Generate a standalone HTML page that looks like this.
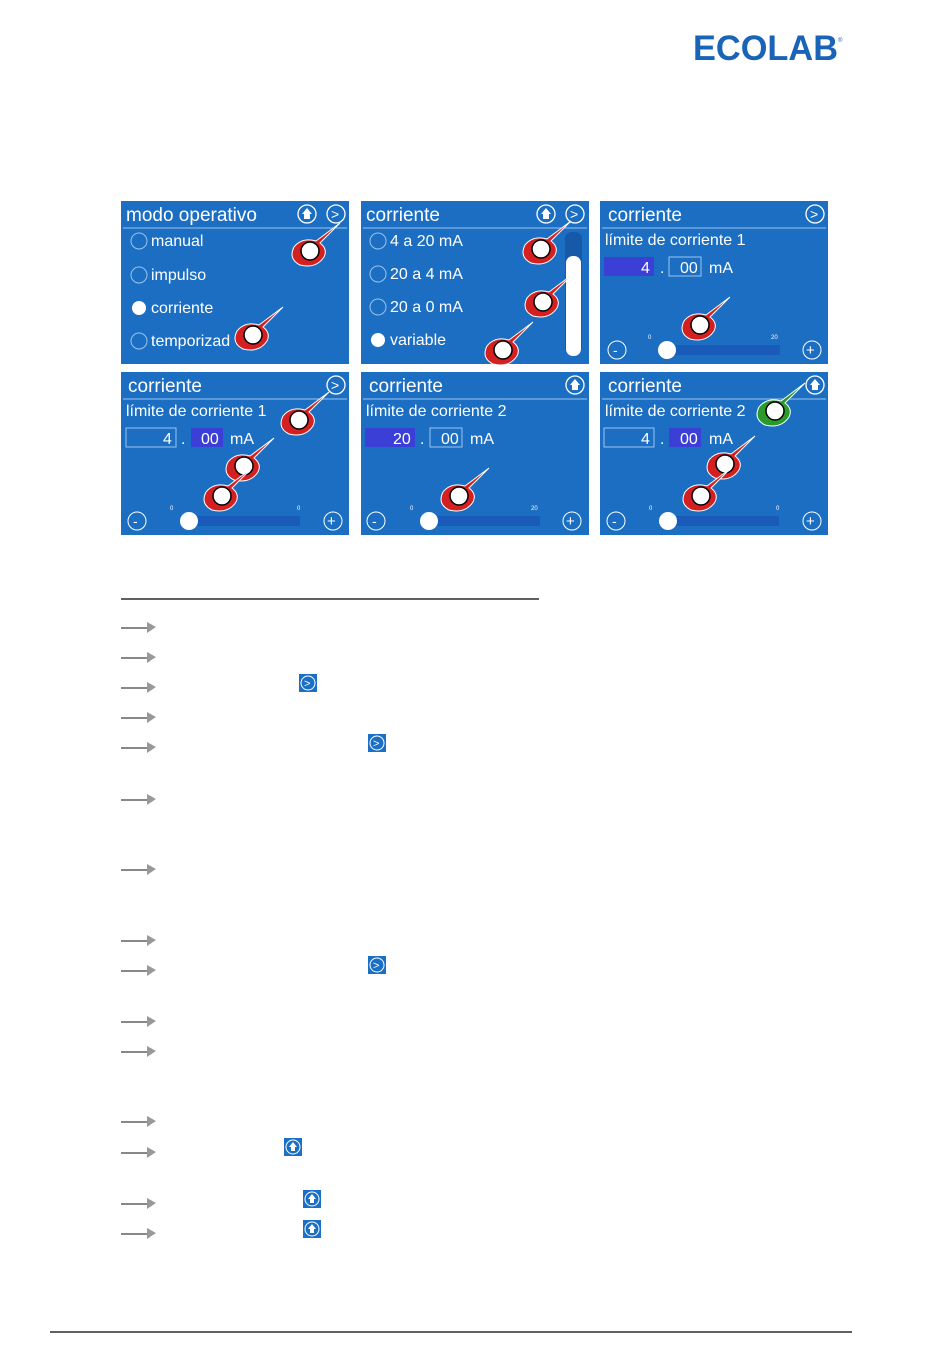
<!DOCTYPE html>
<html><head><meta charset="utf-8"><style>
body{margin:0;background:#fff;width:950px;height:1360px;overflow:hidden}
svg{display:block}
text{font-family:"Liberation Sans",sans-serif;fill:#fff}
</style></head><body>
<svg width="950" height="1360" viewBox="0 0 950 1360" xmlns="http://www.w3.org/2000/svg">
<defs>
<g id="hand"><path d="M30,-28 L6,-10 Q-8,-14 -16,-4 Q-22,8 -10,14 Q6,18 14,6 Q18,-2 10,-8 Z" fill="#d42020" stroke="#fff" stroke-width="1"/><circle cx="0" cy="0" r="9" fill="#fff" stroke="#000" stroke-width="1.5"/></g>
<g id="ghand"><path d="M30,-28 L6,-10 Q-8,-14 -16,-4 Q-22,8 -10,14 Q6,18 14,6 Q18,-2 10,-8 Z" fill="#2a9a2a" stroke="#fff" stroke-width="1"/><circle cx="0" cy="0" r="9" fill="#fff" stroke="#000" stroke-width="1.5"/></g>
<g id="nx"><circle r="9" fill="none" stroke="#fff" stroke-width="1.3"/><text x="-5" y="5" font-size="14">&gt;</text></g>
<g id="up"><circle r="9" fill="none" stroke="#fff" stroke-width="1.3"/><path d="M0,-6 L5,0 L3,0 L3,5 L-3,5 L-3,0 L-5,0Z" fill="#fff"/></g>
<g id="ic"><rect x="-9" y="-9" width="18" height="18" fill="#1b6fc4"/><circle r="7" fill="none" stroke="#fff" stroke-width="1"/><text x="-4" y="4" font-size="11">&gt;</text></g>
<g id="icu"><rect x="-9" y="-9" width="18" height="18" fill="#1b6fc4"/><circle r="7" fill="none" stroke="#fff" stroke-width="1"/><path d="M0,-5 L4,0 L2,0 L2,4 L-2,4 L-2,0 L-4,0Z" fill="#fff"/></g>
<g id="arr"><rect x="0" y="3" width="26" height="2" fill="#888"/><path d="M26,-2 L35,3 L26,9Z" fill="#999"/></g>
</defs>
<text x="693" y="60" font-size="35" font-weight="bold" textLength="145" lengthAdjust="spacingAndGlyphs" style="fill:#1a64b8;font-family:'Liberation Sans',sans-serif">ECOLAB</text>
<text x="838" y="42" font-size="6" style="fill:#1a64b8">®</text>

<g>
<rect x="121" y="201" width="228" height="163" fill="#1b6ec2"/>
<line x1="123" y1="228" x2="347" y2="228" stroke="#9cc4ee" stroke-width="1"/>
<text x="126" y="221" font-size="19">modo operativo</text>
<use href="#up" x="307" y="214"/><use href="#nx" x="336" y="214"/>
<circle cx="139" cy="241" r="8" fill="none" stroke="#9cc4ee"/><text x="151" y="246" font-size="16">manual</text>
<circle cx="139" cy="275" r="8" fill="none" stroke="#9cc4ee"/><text x="151" y="280" font-size="16">impulso</text>
<circle cx="139" cy="308" r="7" fill="#fff"/><text x="151" y="313" font-size="16">corriente</text>
<circle cx="139" cy="341" r="8" fill="none" stroke="#9cc4ee"/><text x="151" y="346" font-size="16">temporizad</text>
<use href="#hand" x="310" y="251"/><use href="#hand" x="253" y="335"/>
</g>
<g>
<rect x="361" y="201" width="228" height="163" fill="#1b6ec2"/>
<line x1="363" y1="228" x2="587" y2="228" stroke="#9cc4ee"/>
<text x="366" y="221" font-size="19">corriente</text>
<use href="#up" x="546" y="214"/><use href="#nx" x="575" y="214"/>
<circle cx="378" cy="241" r="8" fill="none" stroke="#9cc4ee"/><text x="390" y="246" font-size="16">4 a 20 mA</text>
<circle cx="378" cy="274" r="8" fill="none" stroke="#9cc4ee"/><text x="390" y="279" font-size="16">20 a 4 mA</text>
<circle cx="378" cy="307" r="8" fill="none" stroke="#9cc4ee"/><text x="390" y="312" font-size="16">20 a 0 mA</text>
<circle cx="378" cy="340" r="7" fill="#fff"/><text x="390" y="345" font-size="16">variable</text>
<rect x="565" y="232" width="17" height="122" rx="7" fill="#1559a8"/>
<rect x="566" y="256" width="15" height="100" rx="7" fill="#fff"/>
<use href="#hand" x="541" y="249"/><use href="#hand" x="543" y="302"/><use href="#hand" x="503" y="350"/>
</g>
<g>
<rect x="600" y="201" width="228" height="163" fill="#1b6ec2"/>
<line x1="602" y1="228" x2="826" y2="228" stroke="#9cc4ee"/>
<text x="608" y="221" font-size="19">corriente</text>
<use href="#nx" x="815" y="214"/>
<text x="605" y="245" font-size="16">límite de corriente 1</text>
<rect x="604" y="257" width="50" height="19" fill="#3b3fd6"/><text x="641" y="273" font-size="16">4</text>
<text x="660" y="273" font-size="16">.</text>
<rect x="669" y="257" width="32" height="19" fill="none" stroke="#9cc4ee"/><text x="680" y="273" font-size="16">00</text>
<text x="709" y="273" font-size="16">mA</text>
<text x="648" y="339" font-size="6">0</text><text x="771" y="339" font-size="6">20</text>
<rect x="660" y="345" width="120" height="10" fill="#1a5ab8"/>
<circle cx="667" cy="350" r="9" fill="#fff"/>
<circle cx="617" cy="350" r="9" fill="none" stroke="#fff"/><text x="613" y="355" font-size="14">-</text>
<circle cx="812" cy="350" r="9" fill="none" stroke="#fff"/><text x="806" y="355" font-size="15">+</text>
<use href="#hand" x="700" y="325"/>
</g>
<g>
<rect x="121" y="372" width="228" height="163" fill="#1b6ec2"/>
<line x1="123" y1="399" x2="347" y2="399" stroke="#9cc4ee"/>
<text x="128" y="392" font-size="19">corriente</text>
<use href="#nx" x="336" y="385"/>
<text x="126" y="416" font-size="16">límite de corriente 1</text>
<rect x="126" y="428" width="50" height="19" fill="none" stroke="#9cc4ee"/><text x="163" y="444" font-size="16">4</text>
<text x="181" y="444" font-size="16">.</text>
<rect x="191" y="428" width="32" height="19" fill="#3b3fd6"/><text x="201" y="444" font-size="16">00</text>
<text x="230" y="444" font-size="16">mA</text>
<text x="170" y="510" font-size="6">0</text><text x="297" y="510" font-size="6">0</text>
<rect x="188" y="516" width="112" height="10" fill="#1a5ab8"/>
<circle cx="189" cy="521" r="9" fill="#fff"/>
<circle cx="137" cy="521" r="9" fill="none" stroke="#fff"/><text x="133" y="526" font-size="14">-</text>
<circle cx="333" cy="521" r="9" fill="none" stroke="#fff"/><text x="327" y="526" font-size="15">+</text>
<use href="#hand" x="299" y="420"/><use href="#hand" x="244" y="466"/><use href="#hand" x="222" y="496"/>
</g>
<g>
<rect x="361" y="372" width="228" height="163" fill="#1b6ec2"/>
<line x1="363" y1="399" x2="587" y2="399" stroke="#9cc4ee"/>
<text x="369" y="392" font-size="19">corriente</text>
<use href="#up" x="575" y="385"/>
<text x="366" y="416" font-size="16">límite de corriente 2</text>
<rect x="365" y="428" width="50" height="19" fill="#3b3fd6"/><text x="393" y="444" font-size="16">20</text>
<text x="420" y="444" font-size="16">.</text>
<rect x="430" y="428" width="32" height="19" fill="none" stroke="#9cc4ee"/><text x="441" y="444" font-size="16">00</text>
<text x="470" y="444" font-size="16">mA</text>
<text x="410" y="510" font-size="6">0</text><text x="531" y="510" font-size="6">20</text>
<rect x="428" y="516" width="112" height="10" fill="#1a5ab8"/>
<circle cx="429" cy="521" r="9" fill="#fff"/>
<circle cx="376" cy="521" r="9" fill="none" stroke="#fff"/><text x="372" y="526" font-size="14">-</text>
<circle cx="572" cy="521" r="9" fill="none" stroke="#fff"/><text x="566" y="526" font-size="15">+</text>
<use href="#hand" x="459" y="496"/>
</g>
<g>
<rect x="600" y="372" width="228" height="163" fill="#1b6ec2"/>
<line x1="602" y1="399" x2="826" y2="399" stroke="#9cc4ee"/>
<text x="608" y="392" font-size="19">corriente</text>
<use href="#up" x="815" y="385"/>
<text x="605" y="416" font-size="16">límite de corriente 2</text>
<rect x="604" y="428" width="50" height="19" fill="none" stroke="#9cc4ee"/><text x="641" y="444" font-size="16">4</text>
<text x="660" y="444" font-size="16">.</text>
<rect x="669" y="428" width="32" height="19" fill="#3b3fd6"/><text x="680" y="444" font-size="16">00</text>
<text x="709" y="444" font-size="16">mA</text>
<text x="649" y="510" font-size="6">0</text><text x="776" y="510" font-size="6">0</text>
<rect x="667" y="516" width="112" height="10" fill="#1a5ab8"/>
<circle cx="668" cy="521" r="9" fill="#fff"/>
<circle cx="616" cy="521" r="9" fill="none" stroke="#fff"/><text x="612" y="526" font-size="14">-</text>
<circle cx="812" cy="521" r="9" fill="none" stroke="#fff"/><text x="806" y="526" font-size="15">+</text>
<use href="#ghand" x="775" y="411"/><use href="#hand" x="725" y="464"/><use href="#hand" x="701" y="496"/>
</g>

<line x1="121" y1="599" x2="539" y2="599" stroke="#000" stroke-width="1.2"/>
<use href="#arr" x="121" y="624"/><use href="#arr" x="121" y="654"/><use href="#arr" x="121" y="684"/>
<use href="#arr" x="121" y="714"/><use href="#arr" x="121" y="744"/><use href="#arr" x="121" y="796"/>
<use href="#arr" x="121" y="866"/><use href="#arr" x="121" y="937"/><use href="#arr" x="121" y="967"/>
<use href="#arr" x="121" y="1018"/><use href="#arr" x="121" y="1048"/><use href="#arr" x="121" y="1118"/>
<use href="#arr" x="121" y="1149"/><use href="#arr" x="121" y="1200"/><use href="#arr" x="121" y="1230"/>
<use href="#ic" x="308" y="683"/><use href="#ic" x="377" y="743"/><use href="#ic" x="377" y="965"/>
<use href="#icu" x="293" y="1147"/><use href="#icu" x="312" y="1199"/><use href="#icu" x="312" y="1229"/>
<line x1="50" y1="1332" x2="852" y2="1332" stroke="#000" stroke-width="1.2"/>
</svg>
</body></html>
